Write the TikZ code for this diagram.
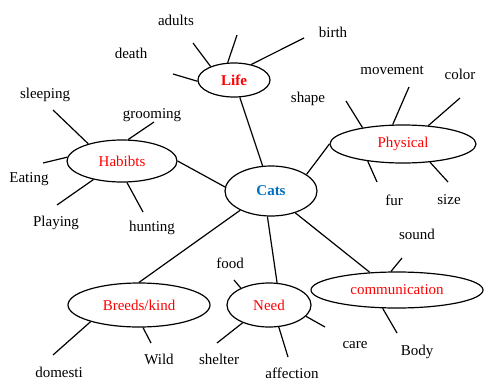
\documentclass[tikz,border=0pt]{standalone}
\usepackage{fontspec}
\setmainfont{Liberation Serif}
\usetikzlibrary{shapes.geometric}
\definecolor{catblue}{RGB}{0,112,192}
\definecolor{topicred}{RGB}{255,0,0}
\begin{document}
\begin{tikzpicture}[x=1pt,y=-1pt,
    line width=1.2pt,
    topic/.style={ellipse,draw,inner sep=0pt,text=topicred,font=\fontsize{15}{17}\selectfont},
    leaf/.style={inner sep=0pt,font=\fontsize{15}{17}\selectfont}]
                \useasboundingbox (0,0) rectangle (484,380);

                % Draw centre and topics
                \node[topic,minimum width=92pt,minimum height=50pt,text=catblue,font=\fontsize{15}{17}\selectfont\bfseries] (cats) at (271,191) {Cats};
                \node[topic,minimum width=72pt,minimum height=34pt,font=\fontsize{15}{17}\selectfont\bfseries] (life) at (234,80) {Life};
                \node[topic,minimum width=110pt,minimum height=42pt] (habits) at (122,161) {Habibts};
                \node[topic,minimum width=146pt,minimum height=38pt] (physical) at (403,144) {Physical};
                \node[topic,minimum width=142pt,minimum height=44pt] (breeds) at (139,305) {Breeds/kind};
                \node[topic,minimum width=84pt,minimum height=44pt] (need) at (269,305) {Need};
                \node[topic,minimum width=172pt,minimum height=36pt] (comm) at (397,290) {communication};

                % Draw connectors from the centre
                \draw (life) -- (cats);
                \draw (habits.east) -- (cats.175);
                \draw (cats.25) -- (physical.west);
                \draw (cats.212) -- (breeds.north);
                \draw (cats.262) -- (need.70);
                \draw (cats.318) -- (comm.147);

                % Life
                \node[leaf] (adults) at (176,20) {adults};
                \node[leaf] (death) at (131,53) {death};
                \node[leaf] (birth) at (333,32) {birth};
                \coordinate (lifeA) at (173,74);
                \coordinate (lifeB) at (193,43);
                \coordinate (lifeC) at (237,35);
                \coordinate (lifeD) at (304,38);
                \draw (lifeA) -- (life.182);
                \draw (lifeB) -- (life.150);
                \draw (lifeC) -- (life.110);
                \draw (lifeD) -- (life.42);

                % Habibts
                \node[leaf] (sleeping) at (45,95) {sleeping};
                \node[leaf] (grooming) at (152,115) {grooming};
                \node[leaf] (eating) at (29,179) {Eating};
                \node[leaf] (playing) at (56,223) {Playing};
                \node[leaf] (hunting) at (152,228) {hunting};
                \coordinate (habA) at (53,110);
                \coordinate (habB) at (154,122);
                \coordinate (habC) at (43,163);
                \coordinate (habD) at (57,205);
                \coordinate (habE) at (143,212);
                \draw (habA) -- (habits.153);
                \draw (habB) -- (habits.74);
                \draw (habC) -- (habits.176);
                \draw (habD) -- (habits.213);
                \draw (habE) -- (habits.283);

                % Physical
                \node[leaf] (shape) at (308,99) {shape};
                \node[leaf] (movement) at (392,70) {movement};
                \node[leaf] (color) at (460,74) {color};
                \node[leaf] (fur) at (394,200) {fur};
                \node[leaf] (size) at (449,200) {size};
                \coordinate (phyA) at (346,101);
                \coordinate (phyB) at (409,87);
                \coordinate (phyC) at (460,98);
                \coordinate (phyD) at (377,182);
                \coordinate (phyE) at (448,182);
                \draw (phyA) -- (physical.158);
                \draw (phyB) -- (physical.118);
                \draw (phyC) -- (physical.36);
                \draw (phyD) -- (physical.206);
                \draw (phyE) -- (physical.326);

                % Breeds/kind
                \node[leaf] (domesti) at (59,372) {domesti};
                \node[leaf] (wild) at (159,359) {Wild};
                \coordinate (brA) at (53,355);
                \coordinate (brB) at (151,343);
                \draw (brA) -- (breeds.199);
                \draw (brB) -- (breeds.280);

                % Need
                \node[leaf] (food) at (230,263) {food};
                \node[leaf] (shelter) at (219,359) {shelter};
                \node[leaf] (affection) at (292,373) {affection};
                \node[leaf] (care) at (355,345) {care};
                \coordinate (needA) at (234,280);
                \coordinate (needB) at (217,343);
                \coordinate (needC) at (288,357);
                \coordinate (needD) at (325,327);
                \draw (needA) -- (need.149);
                \draw (needB) -- (need.214);
                \draw (needC) -- (need.294);
                \draw (needD) -- (need.343);

                % communication
                \node[leaf] (sound) at (417,234) {sound};
                \node[leaf] (body) at (417,352) {Body};
                \coordinate (comA) at (402,258);
                \coordinate (comB) at (397,333);
                \draw (comA) -- (comm.108);
                \draw (comB) -- (comm.232);
            \end{tikzpicture}
\end{document}
